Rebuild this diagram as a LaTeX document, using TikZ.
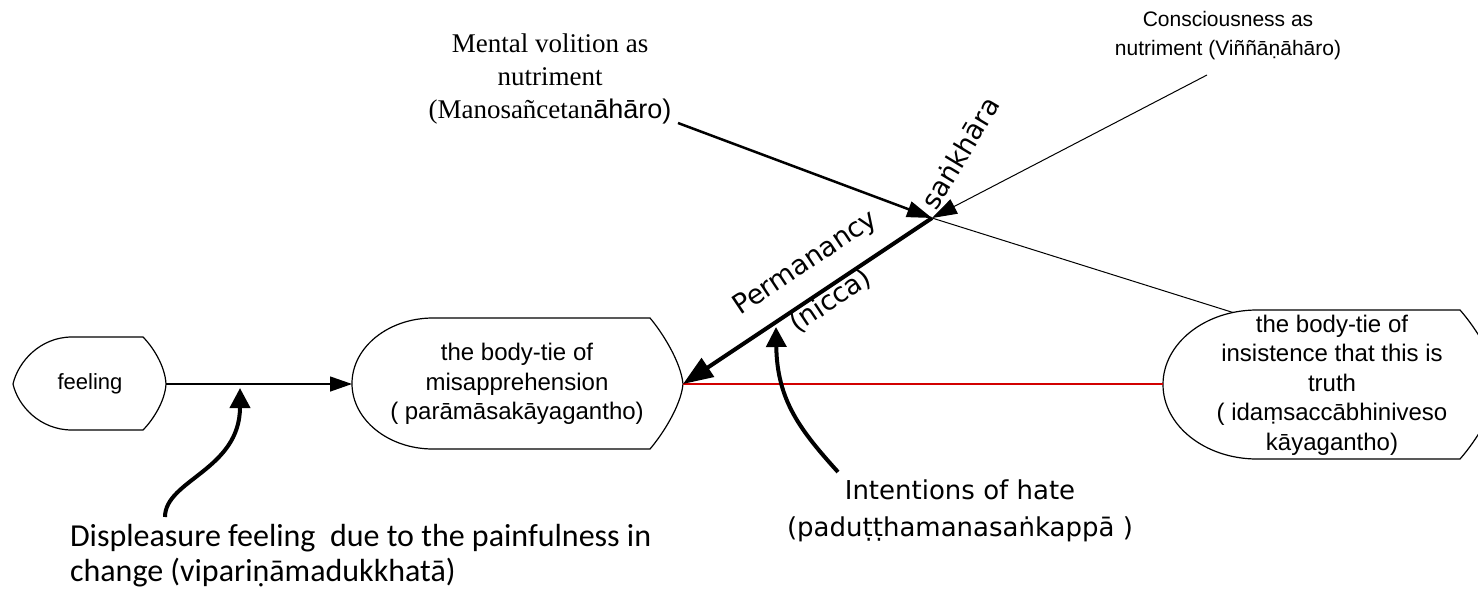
\documentclass[tikz,border=0pt]{standalone}
\usepackage{fontspec}
\setmainfont{Liberation Sans}
\newfontfamily\timesfont{Liberation Serif}
\newfontfamily\verdfont{DejaVu Sans}
\newfontfamily\calfont{Carlito}
\usetikzlibrary{arrows.meta,calc}
\definecolor{tiered}{RGB}{210,0,0}

\begin{document}
\begin{tikzpicture}[x=0.5pt,y=0.5pt,
  outline/.style={draw, line width=0.6pt},
  body/.style={align=center, font=\fontsize{12}{14.7}\selectfont},
  arrow/.style={-{Triangle[length=11pt,width=7.5pt]}, line width=0.65pt},
  feed/.style={-{Triangle[length=12.5pt,width=8pt]}, line width=#1},
  heavy/.style={-{Triangle[length=15pt,width=11pt]}, line width=2pt},
  callout/.style={-{Triangle[length=10pt,width=10pt]}, line width=2pt},
  pali/.style={font=\verdfont\fontsize{13.5}{16}\selectfont}
]
  \useasboundingbox (0,0) rectangle (1478,-590);

  % ── outlines ──
  \draw[outline] (72,-337) -- (143,-337)
    .. controls (152,-346) and (165,-365) .. (166,-384)
    .. controls (165,-402) and (152,-421) .. (143,-430) -- (72,-430)
    .. controls (40,-430) and (18,-406) .. (13,-384)
    .. controls (18,-362) and (40,-337) .. (72,-337) -- cycle;
  \draw[outline] (433,-318) -- (650,-318)
    .. controls (662,-332) and (681,-362) .. (683,-384)
    .. controls (681,-406) and (662,-435) .. (650,-449) -- (433,-449)
    arc[start angle=270, end angle=90, x radius=40.5pt, y radius=32.75pt] -- cycle;
  \begin{scope}
    \clip (0,0) rectangle (1478,-590);
    \draw[outline] (1257,-310) -- (1460,-310)
      .. controls (1476,-328) and (1497,-362) .. (1500,-384.5)
      .. controls (1497,-407) and (1476,-441) .. (1460,-459) -- (1257,-459)
      arc[start angle=270, end angle=90, x radius=47pt, y radius=37.25pt] -- cycle;
  \end{scope}

  \coordinate (feel-e) at (166,-384);
  \coordinate (misappr-w) at (352,-384);
  \coordinate (misappr-e) at (683,-384);
  \coordinate (insist-w) at (1163,-384);
  \coordinate (insist-nw) at (1233,-312.5);
  \coordinate (cross) at (932,-218);
  \coordinate (volit-end) at (678,-123);
  \coordinate (consc-end) at (1207,-75);
  \coordinate (displ-tail) at (165,-517);
  \coordinate (feel-mark) at (240,-388);
  \coordinate (hate-tail) at (838,-472);
  \coordinate (hate-tip) at (776,-327);

  % ── texts ──
  \node[body, font=\fontsize{11}{13}\selectfont] (feel) at (90,-384) {feeling};
  \node[body] (misappr) at (517,-384) {the body-tie of\\misapprehension\\( parāmāsakāyagantho)};
  \node[body] (insist) at (1332,-385) {the body-tie of\\insistence that this is\\truth\\( idaṃsaccābhiniveso\\kāyagantho)};
  \node[align=center, font=\timesfont\fontsize{13.5}{16.5}\selectfont] (volit) at (550,-79)
    {Mental volition as\\nutriment\\(Manosañcetan{\rmfamily āhāro)}};
  \node[align=center, font=\fontsize{10.5}{14.5}\selectfont] (consc) at (1228,-36)
    {Consciousness as\\nutriment (Viññāṇāhāro)};
  \node[pali, rotate=59] (sankh) at (960,-153) {saṅkhāra};
  \node[pali, align=center, rotate=33.7] (perm) at (818,-282) {Permanancy\\[7pt](nicca)};
  \node[anchor=west, align=left, font=\calfont\fontsize{16}{17.5}\selectfont] (displ) at (63,-556)
    {Displeasure feeling~ due to the painfulness in\\change (vipariṇāmadukkhatā)};
  \node[align=center, font=\verdfont\fontsize{13}{18.5}\selectfont] (hate) at (960,-511)
    {Intentions of hate\\(paduṭṭhamanasaṅkappā )};

  % ── connectors ──
  \draw[arrow] (feel-e) -- (misappr-w);
  \draw[tiered, line width=0.75pt] (misappr-e) -- (insist-w);
  \draw[line width=0.5pt] (cross) -- (insist-nw);
  \draw[heavy] (cross) -- (misappr-e);
  \draw[feed=1.25pt] (volit-end) -- (cross);
  \draw[feed=0.5pt] (consc-end) -- (cross);
  \draw[callout] (displ-tail) .. controls (165,-480) and (240,-470) .. (feel-mark);
  \draw[callout] (hate-tail) .. controls (800,-430) and (777,-400) .. (hate-tip);
\end{tikzpicture}
\end{document}
